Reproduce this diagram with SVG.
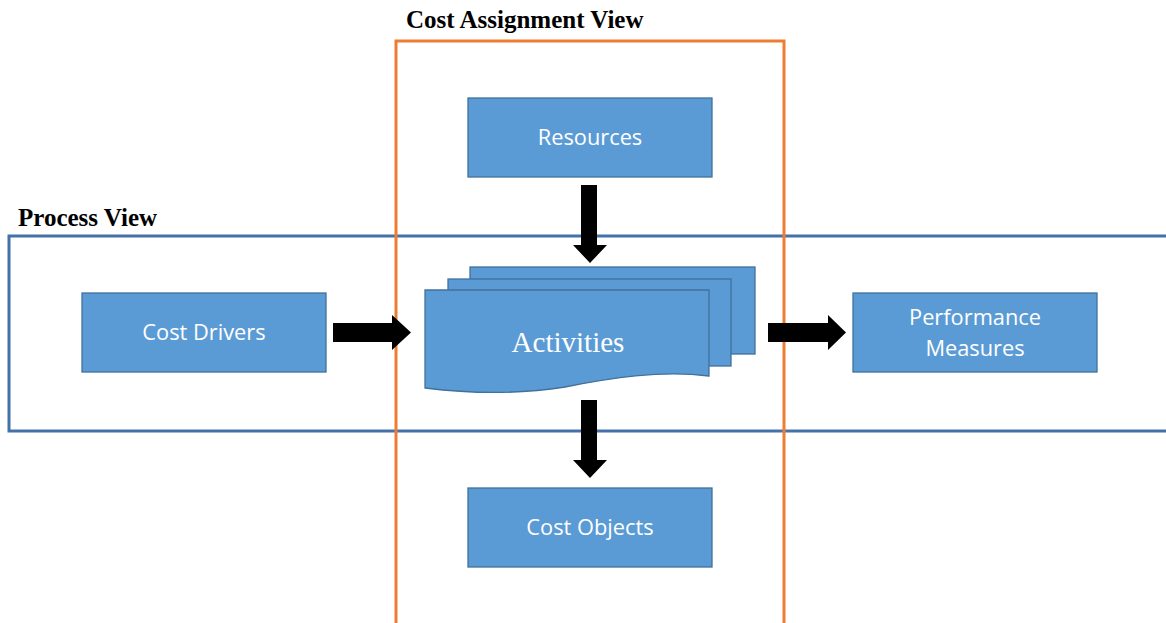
<svg xmlns="http://www.w3.org/2000/svg" width="1166" height="623" viewBox="0 0 1166 623">
<style>
.box{fill:#5B9BD5;stroke:#41719C;stroke-width:1.3}
.lbl{font-family:"Open Sans","Liberation Sans",sans-serif;font-size:21.8px;fill:#fff;text-anchor:middle}
.title{font-family:"Liberation Serif","Times New Roman",serif;font-size:25px;font-weight:bold;fill:#000}
.arrow{fill:#000}
</style>
<rect width="1166" height="623" fill="#fff"/>
<g id="process-view">
<rect x="9" y="236" width="1170" height="195" fill="none" stroke="#4472A8" stroke-width="3"/>
<text class="title" x="18" y="226">Process View</text>
</g>
<g id="cost-assignment-view">
<rect x="396" y="41" width="388" height="600" fill="none" stroke="#ED7D31" stroke-width="3"/>
<text class="title" x="406" y="28">Cost Assignment View</text>
</g>
<g id="resources">
<rect class="box" x="468" y="98" width="244" height="79"/>
<text class="lbl" x="590" y="145">Resources</text>
</g>
<g id="cost-drivers">
<rect class="box" x="82" y="293" width="244" height="79"/>
<text class="lbl" x="204" y="340">Cost Drivers</text>
</g>
<g id="performance-measures">
<rect class="box" x="853" y="293" width="244" height="79"/>
<text class="lbl" x="975" y="325">Performance</text>
<text class="lbl" x="975" y="356">Measures</text>
</g>
<g id="cost-objects">
<rect class="box" x="468" y="488" width="244" height="79"/>
<text class="lbl" x="590" y="535">Cost Objects</text>
</g>
<g id="activities">
<rect class="box" x="470" y="267" width="285" height="87"/>
<rect class="box" x="448" y="279" width="283" height="87"/>
<path class="box" d="M425,290 H709 V376 C660,370 610,378 565,387 C515,395 465,393 425,388 Z"/>
<text x="568" y="352" text-anchor="middle" font-family="Liberation Serif,'Times New Roman',serif" font-size="29" fill="#fff">Activities</text>
</g>
<g id="connectors">
<path class="arrow" d="M581,185 H597 V245 H607 L590,263 L573,245 H581 Z"/>
<path class="arrow" d="M581,400 H597 V460 H607 L590,478 L573,460 H581 Z"/>
<path class="arrow" d="M333,323 H392 V315 L411,332.5 L392,350 V342 H333 Z"/>
<path class="arrow" d="M768,323 H828 V315 L846,332.5 L828,350 V342 H768 Z"/>
</g>
</svg>
